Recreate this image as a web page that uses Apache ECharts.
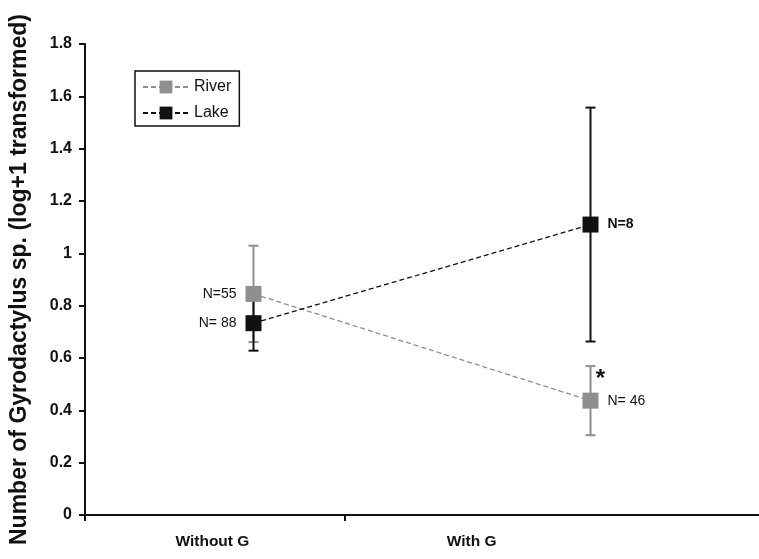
<!DOCTYPE html>
<html><head><meta charset="utf-8">
<script src="https://cdn.jsdelivr.net/npm/echarts@6/dist/echarts.min.js"></script>
<style>html,body{margin:0;padding:0;background:#fff}#c{width:759px;height:559px}</style>
</head><body><div id="c"></div>
<script>
const categories = ['Without G', 'With G'];
const riverMean = [0.845, 0.437];
const riverErr = [0.184, 0.132];
const lakeMean = [0.733, 1.110];
const lakeErr = [0.105, 0.447];
const riverN = ['N=55', 'N= 46'];
const lakeN = ['N= 88', 'N=8'];
const riverSig = ['', '*'];
const yTicks = [0, 0.2, 0.4, 0.6, 0.8, 1, 1.2, 1.4, 1.6, 1.8];

const GRAY = '#8f8f8f', BLACK = '#111';
const FONT = 'Liberation Sans, Arial, sans-serif';

function errData(mean, err, sig) {
  return mean.map((m, i) => [i, m - err[i], m + err[i], sig ? sig[i] : '']);
}
function errRender(color) {
  return function (params, api) {
    const x = api.value(0);
    const lo = api.coord([x, api.value(1)]);
    const hi = api.coord([x, api.value(2)]);
    const hw = 5;
    const st = { stroke: color, lineWidth: 2 };
    const children = [
      { type: 'line', shape: { x1: lo[0], y1: lo[1], x2: hi[0], y2: hi[1] }, style: st },
      { type: 'line', shape: { x1: lo[0] - hw, y1: lo[1], x2: lo[0] + hw, y2: lo[1] }, style: st },
      { type: 'line', shape: { x1: hi[0] - hw, y1: hi[1], x2: hi[0] + hw, y2: hi[1] }, style: st }
    ];
    const s = api.value(3);
    if (s) {
      children.push({ type: 'text', x: hi[0] + 10, y: hi[1] + 13,
        style: { text: s, fill: BLACK, font: 'bold 24px ' + FONT, align: 'center', verticalAlign: 'middle' } });
    }
    return { type: 'group', children };
  };
}

const chart = echarts.init(document.getElementById('c'), null, { renderer: 'canvas' });
chart.setOption({
  animation: false,
  backgroundColor: '#fff',
  grid: { left: 85, right: 0, top: 44, bottom: 44, containLabel: false, outerBoundsMode: 'none' },
  legend: {
    orient: 'vertical', left: 135, top: 71,
    padding: [8, 8, 5, 7], itemGap: 10,
    itemWidth: 46, itemHeight: 16,
    borderColor: '#111', borderWidth: 1.5,
    textStyle: { fontFamily: FONT, fontSize: 16, color: '#111' },
    data: ['River', 'Lake']
  },
  xAxis: [{
    type: 'category', data: categories, boundaryGap: true,
    axisLine: { lineStyle: { color: BLACK, width: 2 } },
    axisTick: { show: false }, axisLabel: { show: false }, splitLine: { show: false }
  }, {
    type: 'value', position: 'bottom', min: 0, max: 674 / 260,
    axisLine: { show: false },
    axisTick: { show: true, customValues: [0, 1], length: 6, lineStyle: { color: BLACK, width: 2 } },
    axisLabel: {
      customValues: [0.49, 1.487], margin: 19,
      formatter: v => categories[Math.round(v - 0.5)] || '',
      fontFamily: FONT, fontWeight: 'bold', fontSize: 15.5, color: '#111'
    },
    splitLine: { show: false }
  }],
  yAxis: {
    type: 'value', min: 0, max: 1.8, interval: 0.2,
    name: 'Number of Gyrodactylus sp. (log+1 transformed)',
    nameLocation: 'middle', nameGap: 54, nameRotate: 90,
    nameTextStyle: { fontFamily: FONT, fontWeight: 'bold', fontSize: 23, color: '#111' },
    axisLine: { show: true, lineStyle: { color: BLACK, width: 2 } },
    axisTick: { show: true, inside: false, length: 6, lineStyle: { color: BLACK, width: 2 } },
    axisLabel: {
      margin: 13, fontFamily: FONT, fontWeight: 'bold', fontSize: 16, color: '#111',
      formatter: v => { const t = yTicks.find(k => Math.abs(k - v) < 1e-6); return t === undefined ? '' : String(t); }
    },
    splitLine: { show: false }
  },
  series: [
    { type: 'custom', name: 'riverErr', xAxisIndex: 0, renderItem: errRender(GRAY), data: errData(riverMean, riverErr, riverSig), z: 2, silent: true },
    { type: 'custom', name: 'lakeErr', xAxisIndex: 0, renderItem: errRender(BLACK), data: errData(lakeMean, lakeErr, null), z: 3, silent: true },
    {
      type: 'line', name: 'River', xAxisIndex: 0, z: 4,
      data: riverMean.map((v, i) => ({ value: v, label: { position: i === 0 ? 'left' : 'right' } })),
      symbol: 'rect', symbolSize: 16,
      itemStyle: { color: GRAY },
      lineStyle: { color: GRAY, width: 1.3, type: [5, 3] },
      label: { show: true, distance: 9, formatter: p => riverN[p.dataIndex], fontFamily: FONT, fontSize: 14, color: '#111' }
    },
    {
      type: 'line', name: 'Lake', xAxisIndex: 0, z: 5,
      data: lakeMean.map((v, i) => ({ value: v, label: { position: i === 0 ? 'left' : 'right', fontWeight: i === 1 ? 'bold' : 'normal' } })),
      symbol: 'rect', symbolSize: 16,
      itemStyle: { color: BLACK },
      lineStyle: { color: BLACK, width: 1.3, type: [5, 3] },
      label: { show: true, distance: 9, formatter: p => lakeN[p.dataIndex], fontFamily: FONT, fontSize: 14, color: '#111' }
    }
  ]
});
</script></body></html>
